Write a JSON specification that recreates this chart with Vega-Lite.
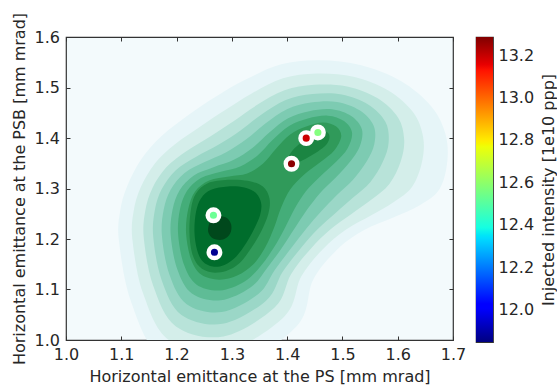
{
  "$schema": "https://vega.github.io/schema/vega-lite/v6.json",
  "padding": {"left": 10, "top": 11, "right": 2, "bottom": 2},
  "autosize": {"type": "pad"},
  "bounds": "flush",
  "spacing": 23,
  "config": {
    "font": "DejaVu Sans",
    "view": {"stroke": "#333333", "strokeWidth": 1.2, "fill": "#f3fafc"},
    "axis": {"grid": false, "domain": false, "labelFont": "DejaVu Sans", "titleFont": "DejaVu Sans", "labelFontSize": 16, "titleFontSize": 16, "titleFontWeight": "normal", "labelColor": "#262626", "titleColor": "#262626", "tickColor": "#333333", "labelFlush": false, "labelOverlap": false}
  },
  "datasets": {
    "contours": [
      {"poly":"L1","level":1,"i":0,"x":1.0959,"y":1.1949},{"poly":"L1","level":1,"i":1,"x":1.0978,"y":1.2544},{"poly":"L1","level":1,"i":2,"x":1.1104,"y":1.3040},{"poly":"L1","level":1,"i":3,"x":1.1358,"y":1.3575},{"poly":"L1","level":1,"i":4,"x":1.1720,"y":1.4031},{"poly":"L1","level":1,"i":5,"x":1.2227,"y":1.4467},{"poly":"L1","level":1,"i":6,"x":1.2715,"y":1.4824},{"poly":"L1","level":1,"i":7,"x":1.3259,"y":1.5161},{"poly":"L1","level":1,"i":8,"x":1.3892,"y":1.5459},{"poly":"L1","level":1,"i":9,"x":1.4580,"y":1.5538},{"poly":"L1","level":1,"i":10,"x":1.5340,"y":1.5439},{"poly":"L1","level":1,"i":11,"x":1.6064,"y":1.5122},{"poly":"L1","level":1,"i":12,"x":1.6608,"y":1.4626},{"poly":"L1","level":1,"i":13,"x":1.6861,"y":1.4090},{"poly":"L1","level":1,"i":14,"x":1.6897,"y":1.3535},{"poly":"L1","level":1,"i":15,"x":1.6752,"y":1.2980},{"poly":"L1","level":1,"i":16,"x":1.6390,"y":1.2663},{"poly":"L1","level":1,"i":17,"x":1.5920,"y":1.2425},{"poly":"L1","level":1,"i":18,"x":1.5377,"y":1.2167},{"poly":"L1","level":1,"i":19,"x":1.4906,"y":1.1790},{"poly":"L1","level":1,"i":20,"x":1.4471,"y":1.1195},{"poly":"L1","level":1,"i":21,"x":1.4164,"y":1.0263},{"poly":"L1","level":1,"i":22,"x":1.2896,"y":0.9411},{"poly":"L1","level":1,"i":23,"x":1.1720,"y":0.9669},{"poly":"L1","level":1,"i":24,"x":1.1177,"y":1.0759},
      {"poly":"L2","level":2,"i":0,"x":1.1202,"y":1.1981},{"poly":"L2","level":2,"i":1,"x":1.1224,"y":1.2552},{"poly":"L2","level":2,"i":2,"x":1.1350,"y":1.3020},{"poly":"L2","level":2,"i":3,"x":1.1604,"y":1.3492},{"poly":"L2","level":2,"i":4,"x":1.1966,"y":1.3872},{"poly":"L2","level":2,"i":5,"x":1.2437,"y":1.4233},{"poly":"L2","level":2,"i":6,"x":1.2886,"y":1.4558},{"poly":"L2","level":2,"i":7,"x":1.3367,"y":1.4888},{"poly":"L2","level":2,"i":8,"x":1.3925,"y":1.5181},{"poly":"L2","level":2,"i":9,"x":1.4533,"y":1.5276},{"poly":"L2","level":2,"i":10,"x":1.5203,"y":1.5213},{"poly":"L2","level":2,"i":11,"x":1.5829,"y":1.4943},{"poly":"L2","level":2,"i":12,"x":1.6282,"y":1.4507},{"poly":"L2","level":2,"i":13,"x":1.6459,"y":1.4023},{"poly":"L2","level":2,"i":14,"x":1.6441,"y":1.3535},{"poly":"L2","level":2,"i":15,"x":1.6264,"y":1.3040},{"poly":"L2","level":2,"i":16,"x":1.5923,"y":1.2726},{"poly":"L2","level":2,"i":17,"x":1.5514,"y":1.2464},{"poly":"L2","level":2,"i":18,"x":1.5054,"y":1.2179},{"poly":"L2","level":2,"i":19,"x":1.4645,"y":1.1798},{"poly":"L2","level":2,"i":20,"x":1.4254,"y":1.1255},{"poly":"L2","level":2,"i":21,"x":1.3950,"y":1.0466},{"poly":"L2","level":2,"i":22,"x":1.2871,"y":0.9768},{"poly":"L2","level":2,"i":23,"x":1.1865,"y":0.9994},{"poly":"L2","level":2,"i":24,"x":1.1394,"y":1.0926},
      {"poly":"L3","level":3,"i":0,"x":1.1408,"y":1.2008},{"poly":"L3","level":3,"i":1,"x":1.1434,"y":1.2558},{"poly":"L3","level":3,"i":2,"x":1.1560,"y":1.3002},{"poly":"L3","level":3,"i":3,"x":1.1814,"y":1.3420},{"poly":"L3","level":3,"i":4,"x":1.2176,"y":1.3738},{"poly":"L3","level":3,"i":5,"x":1.2616,"y":1.4035},{"poly":"L3","level":3,"i":6,"x":1.3030,"y":1.4332},{"poly":"L3","level":3,"i":7,"x":1.3459,"y":1.4656},{"poly":"L3","level":3,"i":8,"x":1.3952,"y":1.4945},{"poly":"L3","level":3,"i":9,"x":1.4493,"y":1.5054},{"poly":"L3","level":3,"i":10,"x":1.5085,"y":1.5020},{"poly":"L3","level":3,"i":11,"x":1.5630,"y":1.4790},{"poly":"L3","level":3,"i":12,"x":1.6005,"y":1.4406},{"poly":"L3","level":3,"i":13,"x":1.6117,"y":1.3966},{"poly":"L3","level":3,"i":14,"x":1.6054,"y":1.3535},{"poly":"L3","level":3,"i":15,"x":1.5849,"y":1.3089},{"poly":"L3","level":3,"i":16,"x":1.5527,"y":1.2780},{"poly":"L3","level":3,"i":17,"x":1.5170,"y":1.2498},{"poly":"L3","level":3,"i":18,"x":1.4781,"y":1.2189},{"poly":"L3","level":3,"i":19,"x":1.4424,"y":1.1804},{"poly":"L3","level":3,"i":20,"x":1.4070,"y":1.1304},{"poly":"L3","level":3,"i":21,"x":1.3769,"y":1.0638},{"poly":"L3","level":3,"i":22,"x":1.2849,"y":1.0071},{"poly":"L3","level":3,"i":23,"x":1.1988,"y":1.0269},{"poly":"L3","level":3,"i":24,"x":1.1579,"y":1.1067},
      {"poly":"L4","level":4,"i":0,"x":1.1579,"y":1.2030},{"poly":"L4","level":4,"i":1,"x":1.1606,"y":1.2564},{"poly":"L4","level":4,"i":2,"x":1.1732,"y":1.2988},{"poly":"L4","level":4,"i":3,"x":1.1986,"y":1.3363},{"poly":"L4","level":4,"i":4,"x":1.2348,"y":1.3626},{"poly":"L4","level":4,"i":5,"x":1.2763,"y":1.3870},{"poly":"L4","level":4,"i":6,"x":1.3150,"y":1.4146},{"poly":"L4","level":4,"i":7,"x":1.3536,"y":1.4463},{"poly":"L4","level":4,"i":8,"x":1.3975,"y":1.4751},{"poly":"L4","level":4,"i":9,"x":1.4461,"y":1.4870},{"poly":"L4","level":4,"i":10,"x":1.4989,"y":1.4862},{"poly":"L4","level":4,"i":11,"x":1.5465,"y":1.4665},{"poly":"L4","level":4,"i":12,"x":1.5777,"y":1.4322},{"poly":"L4","level":4,"i":13,"x":1.5836,"y":1.3918},{"poly":"L4","level":4,"i":14,"x":1.5733,"y":1.3535},{"poly":"L4","level":4,"i":15,"x":1.5507,"y":1.3131},{"poly":"L4","level":4,"i":16,"x":1.5199,"y":1.2825},{"poly":"L4","level":4,"i":17,"x":1.4886,"y":1.2526},{"poly":"L4","level":4,"i":18,"x":1.4555,"y":1.2197},{"poly":"L4","level":4,"i":19,"x":1.4242,"y":1.1810},{"poly":"L4","level":4,"i":20,"x":1.3917,"y":1.1346},{"poly":"L4","level":4,"i":21,"x":1.3619,"y":1.0779},{"poly":"L4","level":4,"i":22,"x":1.2831,"y":1.0321},{"poly":"L4","level":4,"i":23,"x":1.2089,"y":1.0497},{"poly":"L4","level":4,"i":24,"x":1.1731,"y":1.1184},
      {"poly":"L5","level":5,"i":0,"x":1.1736,"y":1.2050},{"poly":"L5","level":5,"i":1,"x":1.1765,"y":1.2570},{"poly":"L5","level":5,"i":2,"x":1.1892,"y":1.2976},{"poly":"L5","level":5,"i":3,"x":1.2145,"y":1.3309},{"poly":"L5","level":5,"i":4,"x":1.2507,"y":1.3523},{"poly":"L5","level":5,"i":5,"x":1.2898,"y":1.3718},{"poly":"L5","level":5,"i":6,"x":1.3260,"y":1.3973},{"poly":"L5","level":5,"i":7,"x":1.3606,"y":1.4285},{"poly":"L5","level":5,"i":8,"x":1.3997,"y":1.4570},{"poly":"L5","level":5,"i":9,"x":1.4430,"y":1.4701},{"poly":"L5","level":5,"i":10,"x":1.4900,"y":1.4715},{"poly":"L5","level":5,"i":11,"x":1.5311,"y":1.4550},{"poly":"L5","level":5,"i":12,"x":1.5565,"y":1.4245},{"poly":"L5","level":5,"i":13,"x":1.5576,"y":1.3874},{"poly":"L5","level":5,"i":14,"x":1.5438,"y":1.3535},{"poly":"L5","level":5,"i":15,"x":1.5188,"y":1.3170},{"poly":"L5","level":5,"i":16,"x":1.4895,"y":1.2865},{"poly":"L5","level":5,"i":17,"x":1.4622,"y":1.2552},{"poly":"L5","level":5,"i":18,"x":1.4345,"y":1.2205},{"poly":"L5","level":5,"i":19,"x":1.4071,"y":1.1816},{"poly":"L5","level":5,"i":20,"x":1.3776,"y":1.1386},{"poly":"L5","level":5,"i":21,"x":1.3479,"y":1.0910},{"poly":"L5","level":5,"i":22,"x":1.2815,"y":1.0553},{"poly":"L5","level":5,"i":23,"x":1.2183,"y":1.0710},{"poly":"L5","level":5,"i":24,"x":1.1872,"y":1.1293},
      {"poly":"L6","level":6,"i":0,"x":1.1894,"y":1.2072},{"poly":"L6","level":6,"i":1,"x":1.1926,"y":1.2574},{"poly":"L6","level":6,"i":2,"x":1.2053,"y":1.2962},{"poly":"L6","level":6,"i":3,"x":1.2306,"y":1.3254},{"poly":"L6","level":6,"i":4,"x":1.2668,"y":1.3420},{"poly":"L6","level":6,"i":5,"x":1.3036,"y":1.3567},{"poly":"L6","level":6,"i":6,"x":1.3371,"y":1.3801},{"poly":"L6","level":6,"i":7,"x":1.3677,"y":1.4108},{"poly":"L6","level":6,"i":8,"x":1.4017,"y":1.4390},{"poly":"L6","level":6,"i":9,"x":1.4399,"y":1.4531},{"poly":"L6","level":6,"i":10,"x":1.4810,"y":1.4568},{"poly":"L6","level":6,"i":11,"x":1.5159,"y":1.4434},{"poly":"L6","level":6,"i":12,"x":1.5353,"y":1.4168},{"poly":"L6","level":6,"i":13,"x":1.5313,"y":1.3831},{"poly":"L6","level":6,"i":14,"x":1.5141,"y":1.3535},{"poly":"L6","level":6,"i":15,"x":1.4871,"y":1.3208},{"poly":"L6","level":6,"i":16,"x":1.4593,"y":1.2907},{"poly":"L6","level":6,"i":17,"x":1.4359,"y":1.2577},{"poly":"L6","level":6,"i":18,"x":1.4137,"y":1.2213},{"poly":"L6","level":6,"i":19,"x":1.3903,"y":1.1820},{"poly":"L6","level":6,"i":20,"x":1.3635,"y":1.1423},{"poly":"L6","level":6,"i":21,"x":1.3342,"y":1.1043},{"poly":"L6","level":6,"i":22,"x":1.2799,"y":1.0785},{"poly":"L6","level":6,"i":23,"x":1.2277,"y":1.0920},{"poly":"L6","level":6,"i":24,"x":1.2013,"y":1.1400},
      {"poly":"L7","level":7,"i":0,"x":1.2028,"y":1.2088},{"poly":"L7","level":7,"i":1,"x":1.2060,"y":1.2579},{"poly":"L7","level":7,"i":2,"x":1.2187,"y":1.2952},{"poly":"L7","level":7,"i":3,"x":1.2440,"y":1.3208},{"poly":"L7","level":7,"i":4,"x":1.2802,"y":1.3333},{"poly":"L7","level":7,"i":5,"x":1.3150,"y":1.3438},{"poly":"L7","level":7,"i":6,"x":1.3465,"y":1.3654},{"poly":"L7","level":7,"i":7,"x":1.3736,"y":1.3958},{"poly":"L7","level":7,"i":8,"x":1.4035,"y":1.4237},{"poly":"L7","level":7,"i":9,"x":1.4374,"y":1.4386},{"poly":"L7","level":7,"i":10,"x":1.4736,"y":1.4443},{"poly":"L7","level":7,"i":11,"x":1.5029,"y":1.4336},{"poly":"L7","level":7,"i":12,"x":1.5174,"y":1.4102},{"poly":"L7","level":7,"i":13,"x":1.5092,"y":1.3793},{"poly":"L7","level":7,"i":14,"x":1.4890,"y":1.3535},{"poly":"L7","level":7,"i":15,"x":1.4602,"y":1.3242},{"poly":"L7","level":7,"i":16,"x":1.4336,"y":1.2942},{"poly":"L7","level":7,"i":17,"x":1.4135,"y":1.2599},{"poly":"L7","level":7,"i":18,"x":1.3959,"y":1.2219},{"poly":"L7","level":7,"i":19,"x":1.3758,"y":1.1826},{"poly":"L7","level":7,"i":20,"x":1.3516,"y":1.1457},{"poly":"L7","level":7,"i":21,"x":1.3224,"y":1.1154},{"poly":"L7","level":7,"i":22,"x":1.2784,"y":1.0981},{"poly":"L7","level":7,"i":23,"x":1.2357,"y":1.1100},{"poly":"L7","level":7,"i":24,"x":1.2133,"y":1.1493},
      {"poly":"L8","level":8,"i":0,"x":1.2172,"y":1.2108},{"poly":"L8","level":8,"i":1,"x":1.2209,"y":1.2583},{"poly":"L8","level":8,"i":2,"x":1.2335,"y":1.2940},{"poly":"L8","level":8,"i":3,"x":1.2589,"y":1.3158},{"poly":"L8","level":8,"i":4,"x":1.2951,"y":1.3238},{"poly":"L8","level":8,"i":5,"x":1.3277,"y":1.3297},{"poly":"L8","level":8,"i":6,"x":1.3566,"y":1.3496},{"poly":"L8","level":8,"i":7,"x":1.3802,"y":1.3793},{"poly":"L8","level":8,"i":8,"x":1.4055,"y":1.4071},{"poly":"L8","level":8,"i":9,"x":1.4345,"y":1.4229},{"poly":"L8","level":8,"i":10,"x":1.4652,"y":1.4309},{"poly":"L8","level":8,"i":11,"x":1.4888,"y":1.4229},{"poly":"L8","level":8,"i":12,"x":1.4978,"y":1.4031},{"poly":"L8","level":8,"i":13,"x":1.4851,"y":1.3753},{"poly":"L8","level":8,"i":14,"x":1.4616,"y":1.3535},{"poly":"L8","level":8,"i":15,"x":1.4309,"y":1.3277},{"poly":"L8","level":8,"i":16,"x":1.4055,"y":1.2980},{"poly":"L8","level":8,"i":17,"x":1.3892,"y":1.2623},{"poly":"L8","level":8,"i":18,"x":1.3765,"y":1.2227},{"poly":"L8","level":8,"i":19,"x":1.3602,"y":1.1830},{"poly":"L8","level":8,"i":20,"x":1.3385,"y":1.1493},{"poly":"L8","level":8,"i":21,"x":1.3096,"y":1.1275},{"poly":"L8","level":8,"i":22,"x":1.2770,"y":1.1195},{"poly":"L8","level":8,"i":23,"x":1.2444,"y":1.1295},{"poly":"L8","level":8,"i":24,"x":1.2263,"y":1.1592},
      {"poly":"L9a","level":9,"i":0,"x":1.2232,"y":1.2147},{"poly":"L9a","level":9,"i":1,"x":1.2263,"y":1.2609},{"poly":"L9a","level":9,"i":2,"x":1.2353,"y":1.2907},{"poly":"L9a","level":9,"i":3,"x":1.2565,"y":1.3105},{"poly":"L9a","level":9,"i":4,"x":1.2927,"y":1.3172},{"poly":"L9a","level":9,"i":5,"x":1.3289,"y":1.3153},{"poly":"L9a","level":9,"i":6,"x":1.3561,"y":1.3040},{"poly":"L9a","level":9,"i":7,"x":1.3680,"y":1.2808},{"poly":"L9a","level":9,"i":8,"x":1.3662,"y":1.2510},{"poly":"L9a","level":9,"i":9,"x":1.3530,"y":1.2147},{"poly":"L9a","level":9,"i":10,"x":1.3349,"y":1.1816},{"poly":"L9a","level":9,"i":11,"x":1.3137,"y":1.1519},{"poly":"L9a","level":9,"i":12,"x":1.2896,"y":1.1368},{"poly":"L9a","level":9,"i":13,"x":1.2625,"y":1.1340},{"poly":"L9a","level":9,"i":14,"x":1.2413,"y":1.1453},{"poly":"L9a","level":9,"i":15,"x":1.2281,"y":1.1717},
      {"poly":"L9b","level":9,"i":0,"x":1.4001,"y":1.3521},{"poly":"L9b","level":9,"i":1,"x":1.4061,"y":1.3700},{"poly":"L9b","level":9,"i":2,"x":1.4205,"y":1.3866},{"poly":"L9b","level":9,"i":3,"x":1.4404,"y":1.4011},{"poly":"L9b","level":9,"i":4,"x":1.4585,"y":1.4110},{"poly":"L9b","level":9,"i":5,"x":1.4725,"y":1.4116},{"poly":"L9b","level":9,"i":6,"x":1.4766,"y":1.4011},{"poly":"L9b","level":9,"i":7,"x":1.4707,"y":1.3866},{"poly":"L9b","level":9,"i":8,"x":1.4556,"y":1.3734},{"poly":"L9b","level":9,"i":9,"x":1.4375,"y":1.3615},{"poly":"L9b","level":9,"i":10,"x":1.4194,"y":1.3515},{"poly":"L9b","level":9,"i":11,"x":1.4073,"y":1.3470},
      {"poly":"L10","level":10,"i":0,"x":1.2323,"y":1.2147},{"poly":"L10","level":10,"i":1,"x":1.2353,"y":1.2544},{"poly":"L10","level":10,"i":2,"x":1.2444,"y":1.2808},{"poly":"L10","level":10,"i":3,"x":1.2625,"y":1.2974},{"poly":"L10","level":10,"i":4,"x":1.2927,"y":1.3040},{"poly":"L10","level":10,"i":5,"x":1.3228,"y":1.3020},{"poly":"L10","level":10,"i":6,"x":1.3440,"y":1.2907},{"poly":"L10","level":10,"i":7,"x":1.3530,"y":1.2708},{"poly":"L10","level":10,"i":8,"x":1.3512,"y":1.2478},{"poly":"L10","level":10,"i":9,"x":1.3409,"y":1.2213},{"poly":"L10","level":10,"i":10,"x":1.3258,"y":1.1915},{"poly":"L10","level":10,"i":11,"x":1.3077,"y":1.1651},{"poly":"L10","level":10,"i":12,"x":1.2866,"y":1.1487},{"poly":"L10","level":10,"i":13,"x":1.2656,"y":1.1453},{"poly":"L10","level":10,"i":14,"x":1.2475,"y":1.1552},{"poly":"L10","level":10,"i":15,"x":1.2371,"y":1.1784},
      {"poly":"L11","level":11,"i":0,"x":1.2571,"y":1.2147},{"poly":"L11","level":11,"i":1,"x":1.2607,"y":1.2345},{"poly":"L11","level":11,"i":2,"x":1.2715,"y":1.2445},{"poly":"L11","level":11,"i":3,"x":1.2896,"y":1.2425},{"poly":"L11","level":11,"i":4,"x":1.2987,"y":1.2286},{"poly":"L11","level":11,"i":5,"x":1.2969,"y":1.2108},{"poly":"L11","level":11,"i":6,"x":1.2842,"y":1.1989},{"poly":"L11","level":11,"i":7,"x":1.2661,"y":1.2008}
    ],
    "points": [
      {"ps": 1.2685, "psb": 1.1737, "intensity": 11.87},
      {"ps": 1.2667, "psb": 1.247, "intensity": 12.56},
      {"ps": 1.4079, "psb": 1.349, "intensity": 13.27},
      {"ps": 1.4345, "psb": 1.3997, "intensity": 13.19},
      {"ps": 1.4556, "psb": 1.411, "intensity": 12.6}
    ],
    "bar": [{"lo": 11.847, "hi": 13.285}]
  },
  "hconcat": [
    {
      "width": 387,
      "height": 303,
      "layer": [
        {
          "data": {"name": "contours"},
          "mark": {"type": "line", "interpolate": "cardinal-closed", "strokeWidth": 0, "clip": true},
          "encoding": {
            "x": {"field": "x", "type": "quantitative", "scale": {"domain": [1.0, 1.7], "nice": false, "zero": false},
                  "axis": {"orient": "bottom", "values": [1.0, 1.1, 1.2, 1.3, 1.4, 1.5, 1.6, 1.7], "format": ".1f", "tickSize": -4, "labelPadding": 10, "title": "Horizontal emittance at the PS [mm mrad]", "titlePadding": 6}},
            "y": {"field": "y", "type": "quantitative", "scale": {"domain": [1.0, 1.6], "nice": false, "zero": false},
                  "axis": {"orient": "left", "values": [1.0, 1.1, 1.2, 1.3, 1.4, 1.5, 1.6], "format": ".1f", "tickSize": -4, "labelPadding": 10.5, "title": "Horizontal emittance at the PSB [mm mrad]", "titlePadding": 7}},
            "order": {"field": "i", "type": "quantitative"},
            "detail": {"field": "poly", "type": "nominal"},
            "fill": {"field": "level", "type": "ordinal", "legend": null,
                     "scale": {"domain": [1, 2, 3, 4, 5, 6, 7, 8, 9, 10, 11], "range": ["#e6f5f8", "#d4eeea", "#b8e3d9", "#9bd7c7", "#7dcbb2", "#5fbc96", "#44ad79", "#309a5a", "#1b8542", "#006d2c", "#00481c"]}}
          }
        },
        {
          "data": {"name": "points"},
          "mark": {"type": "circle", "size": 133, "stroke": "white", "strokeWidth": 4.4, "opacity": 1},
          "encoding": {
            "x": {"field": "ps", "type": "quantitative", "scale": {"domain": [1.0, 1.7], "nice": false, "zero": false},
                  "axis": {"orient": "top", "values": [1.0, 1.1, 1.2, 1.3, 1.4, 1.5, 1.6, 1.7], "labels": false, "title": null, "tickSize": -4}},
            "y": {"field": "psb", "type": "quantitative", "scale": {"domain": [1.0, 1.6], "nice": false, "zero": false},
                  "axis": {"orient": "right", "values": [1.0, 1.1, 1.2, 1.3, 1.4, 1.5, 1.6], "labels": false, "title": null, "tickSize": -4}},
            "color": {"field": "intensity", "type": "quantitative", "legend": null,
                      "scale": {"domain": [11.847, 12.005, 12.027, 12.336, 12.35, 12.386, 12.767, 12.782, 12.796, 13.127, 13.156, 13.285],
                                "range": ["#000080", "#0000ff", "#0000ff", "#00dbff", "#00e6f7", "#15ffe2", "#eeff08", "#f7f600", "#ffec00", "#ff1300", "#e80000", "#800000"]}}
          }
        }
      ],
      "resolve": {"axis": {"x": "independent", "y": "independent"}}
    },
    {
      "width": 17,
      "height": 305,
      "data": {"name": "bar"},
      "mark": {"type": "rect", "fill": {"gradient": "linear", "x1": 0, "y1": 1, "x2": 0, "y2": 0,
        "stops": [{"offset": 0, "color": "#000080"}, {"offset": 0.11, "color": "#0000ff"}, {"offset": 0.125, "color": "#0000ff"}, {"offset": 0.34, "color": "#00dbff"}, {"offset": 0.35, "color": "#00e6f7"}, {"offset": 0.375, "color": "#15ffe2"}, {"offset": 0.64, "color": "#eeff08"}, {"offset": 0.65, "color": "#f7f600"}, {"offset": 0.66, "color": "#ffec00"}, {"offset": 0.89, "color": "#ff1300"}, {"offset": 0.91, "color": "#e80000"}, {"offset": 1, "color": "#800000"}]}},
      "encoding": {
        "y": {"field": "lo", "type": "quantitative", "scale": {"domain": [11.847, 13.285], "nice": false, "zero": false},
              "axis": {"orient": "right", "values": [12.0, 12.2, 12.4, 12.6, 12.8, 13.0, 13.2], "format": ".1f", "ticks": false, "labelPadding": 5, "title": "Injected intensity [1e10 ppp]", "titleAngle": 270, "titleBaseline": "top", "titleAlign": "center", "titlePadding": 7}},
        "y2": {"field": "hi"}
      }
    }
  ]
}
